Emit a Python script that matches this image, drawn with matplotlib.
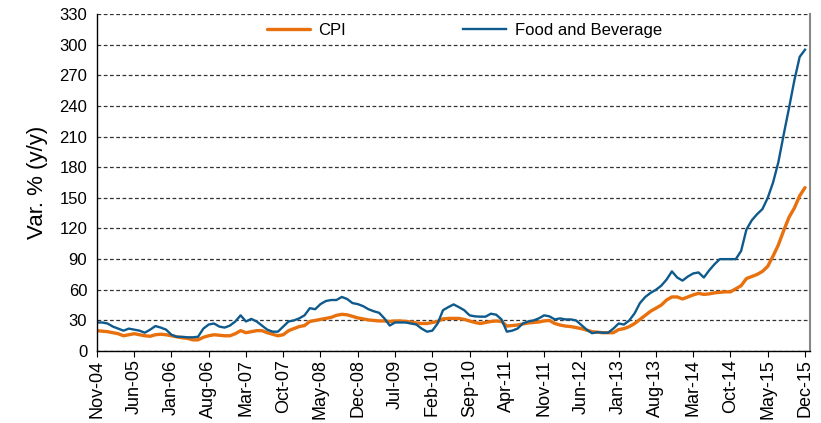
import matplotlib.pyplot as plt
import numpy as np

plt.rcParams['font.family'] = ['Liberation Sans', 'DejaVu Sans']

# monthly, Nov-04 .. Dec-15
months = ['Nov-04', 'Jun-05', 'Jan-06', 'Aug-06', 'Mar-07', 'Oct-07', 'May-08',
          'Dec-08', 'Jul-09', 'Feb-10', 'Sep-10', 'Apr-11', 'Nov-11', 'Jun-12',
          'Jan-13', 'Aug-13', 'Mar-14', 'Oct-14', 'May-15', 'Dec-15']

cpi = [20, 19.5, 19, 18, 17, 15, 16, 17, 16, 15, 14.5, 16, 16.5, 16, 15, 14, 13,
       12.5, 11, 11, 13.5, 15, 16, 15.5, 15, 15, 17, 20, 18, 19, 20, 20, 18, 16.5,
       15, 16, 20, 22, 24, 25, 29, 30, 31, 32, 33, 35, 36, 35.5, 34, 32.5, 31.5,
       30.5, 30, 29.5, 29.5, 29, 29.5, 29.5, 29, 28.5, 27.5, 27, 27, 28, 29, 31.5,
       32, 32, 32, 31, 29.5, 28, 27, 28, 29, 29.5, 29, 24.5, 25, 25.5, 26.5, 27.5,
       28, 28.5, 29.5, 30, 27, 25.5, 24.5, 24, 23, 22, 20.5, 19, 18.5, 18, 18, 18,
       21, 22, 24, 27, 31, 35, 39, 42, 45, 50, 53, 53, 51, 53, 55, 56.5, 55.5, 56,
       57, 57.5, 58, 58, 61, 64, 71, 73, 75, 78, 83, 93, 104, 118, 131, 140, 152, 160]

food = [28, 28, 27, 24, 22, 20, 22, 21, 20, 18, 21, 24.5, 23, 21, 16, 14, 14,
        13.5, 13.5, 14, 22, 26, 27, 24, 23, 25, 29, 35, 29, 31.5, 29, 25, 21, 19,
        19, 24, 29, 30, 32, 35, 42, 41, 46, 49, 50, 50, 53, 51, 47, 46, 44, 41, 39,
        37.5, 32, 25, 28, 28, 28, 27, 26, 22, 19, 20, 27, 40, 43, 45.7, 43, 40, 35,
        34, 33.7, 33.7, 36.6, 35.6, 31, 19, 20, 22, 27, 29, 30, 32, 35, 34, 31, 32,
        31, 31, 30, 25.5, 21, 17.5, 18.5, 18, 18, 22, 27, 26, 30, 37, 47, 53, 57,
        60, 64, 70, 78, 72, 69, 73, 76, 77, 72, 79, 85, 90, 90, 90, 90, 98, 119, 128,
        134, 139, 150, 165, 185, 212, 238, 265, 288, 295]

x = np.arange(len(cpi))

fig = plt.figure(figsize=(8.21, 4.23), dpi=100)
ax = fig.add_axes([0.118, 0.170, 0.869, 0.797])

ax.plot(x, cpi, color='#E8700D', lw=2.4, label='CPI', solid_capstyle='round')
ax.plot(x, food, color='#0F5A8C', lw=1.7, label='Food and Beverage')

ax.set_xlim(0, 134)
ax.set_ylim(0, 330)
ax.set_yticks(np.arange(0, 331, 30))
ax.set_xticks(np.arange(0, len(cpi), 7))
ax.set_xticklabels(months, rotation=90)
ax.tick_params(axis='x', direction='out', length=4, labelsize=13, pad=2)
ax.tick_params(axis='y', length=0, labelsize=12, pad=7)

ax.yaxis.grid(True, linestyle=(0, (3, 2)), color='#333333', lw=0.9)
ax.set_axisbelow(True)

ax.spines['top'].set_visible(False)
ax.spines['right'].set_color('#888888')
ax.spines['right'].set_linewidth(1.5)
ax.spines['left'].set_linewidth(1.0)
ax.spines['bottom'].set_linewidth(1.0)

ax.set_ylabel('Var. % (y/y)', fontsize=16, labelpad=8)

ax.legend(loc='center', bbox_to_anchor=(0.515, 0.95), ncol=2, frameon=False,
          fontsize=12, handlelength=2.6, columnspacing=7.0, handletextpad=0.5)

fig.savefig('out.png', dpi=100)
